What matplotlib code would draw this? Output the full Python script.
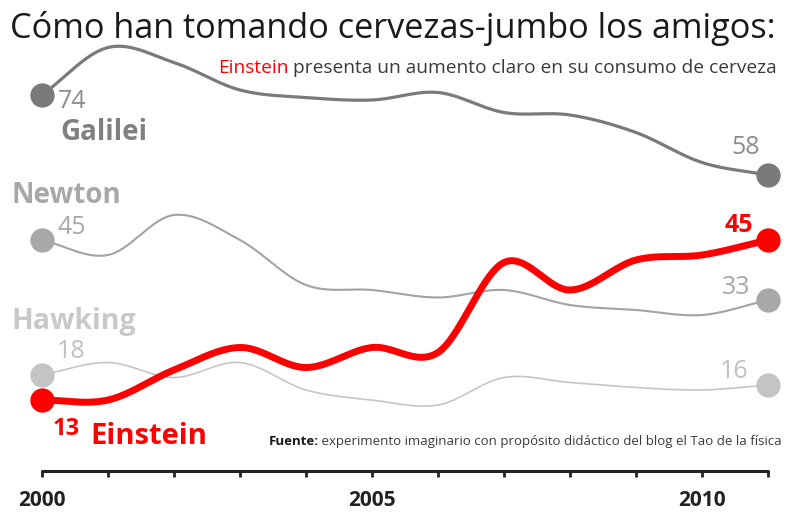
import numpy as np
import matplotlib
matplotlib.use("Agg")
import matplotlib.pyplot as plt

# Consumption of jumbo beers per year
years = list(range(2000, 2012))
galilei = [74, 83.5, 80.5, 75, 73.5, 73, 74.5, 70.5, 70, 66.5, 60.5, 58]
newton = [45, 42, 50, 45, 36, 35, 33.5, 35, 32, 31, 30, 33]
hawking = [18, 20.5, 17.5, 20.5, 15, 13, 12, 17.5, 16.5, 15.5, 15, 16]
einstein = [13, 13, 19, 23.5, 19.5, 23.5, 22.5, 40.5, 35, 41, 42, 45]

tick_labels = ["2000", "", "", "", "", "2005", "", "", "", "", "2010", ""]

FONT = "Open Sans"
W, H = 787, 515


def smooth(x, y, n=40):
    """Catmull-Rom curve through the points (x, y)."""
    x = np.asarray(x, float)
    y = np.asarray(y, float)
    px = np.concatenate([[2 * x[0] - x[1]], x, [2 * x[-1] - x[-2]]])
    py = np.concatenate([[2 * y[0] - y[1]], y, [2 * y[-1] - y[-2]]])
    t = np.linspace(0, 1, n, endpoint=False)
    xs, ys = [], []
    for i in range(1, len(px) - 2):
        for src, dst in ((px, xs), (py, ys)):
            p0, p1, p2, p3 = src[i - 1:i + 3]
            dst.append(0.5 * (2 * p1 + (-p0 + p2) * t
                              + (2 * p0 - 5 * p1 + 4 * p2 - p3) * t ** 2
                              + (-p0 + 3 * p1 - 3 * p2 + p3) * t ** 3))
    xs = np.concatenate(xs + [[x[-1]]])
    ys = np.concatenate(ys + [[y[-1]]])
    return xs, ys


fig = plt.figure(figsize=(W / 100, H / 100), dpi=100)
ax = fig.add_axes([0, 0, 1, 1])
ax.set_xlim(2000 - 42 / 66, 2000 + (W - 42) / 66)
ax.set_ylim(-10, 93)


def fpx(x, y):
    return x / W, 1 - y / H


series = [
    (galilei, "#7a7a7a", 2.3, "#7a7a7a", 2),
    (newton, "#a3a3a3", 1.5, "#a8a8a8", 2),
    (hawking, "#c6c6c6", 1.2, "#c4c4c4", 2),
    (einstein, "#ff0000", 5.0, "#ff0000", 3),
]
for vals, lc, lw, mc, z in series:
    sx, sy = smooth(years, vals)
    ax.plot(sx, sy, color=lc, lw=lw, solid_capstyle="round", zorder=z)
    ax.plot([years[0], years[-1]], [vals[0], vals[-1]], "o", ms=17.5,
            color=mc, mec="none", zorder=z + 0.5)

# value labels at both ends of each line
def val(text, x, y, dx, dy, color, size, ha, bold=False):
    ax.annotate(text, xy=(x, y), xytext=(dx, dy), textcoords="offset pixels",
                ha=ha, va="center", color=color, fontsize=size, family=FONT,
                fontweight="bold" if bold else "normal", zorder=5)

val(f"{galilei[0]:.0f}", years[0], galilei[0], 16, -6, "#8c8c8c", 18, "left")
val(f"{newton[0]:.0f}", years[0], newton[0], 15, 12, "#a8a8a8", 18, "left")
val(f"{hawking[0]:.0f}", years[0], hawking[0], 15, 24, "#c0c0c0", 18, "left")
val(f"{einstein[0]:.0f}", years[0], einstein[0], 11, -29, "#ff0000", 17, "left", True)

val(f"{galilei[-1]:.0f}", years[-1], galilei[-1], -8, 27, "#8c8c8c", 18, "right")
val(f"{einstein[-1]:.0f}", years[-1], einstein[-1], -15, 15, "#ff0000", 18, "right", True)
val(f"{newton[-1]:.0f}", years[-1], newton[-1], -18, 13, "#a8a8a8", 18, "right")
val(f"{hawking[-1]:.0f}", years[-1], hawking[-1], -20, 13, "#c0c0c0", 18, "right")

# series names
def name(text, x, y, color, size):
    fig.text(*fpx(x, y), text, ha="left", va="center", color=color,
             fontsize=size, family=FONT, fontweight="bold")

name("Galilei", 60, 132, "#808080", 20)
name("Newton", 12, 196, "#a8a8a8", 20)
name("Hawking", 12, 321, "#c8c8c8", 20.5)
name("Einstein", 90, 436, "#ff0000", 21)

# x axis
for side in ("left", "right", "top"):
    ax.spines[side].set_visible(False)
ax.spines["bottom"].set_position(("data", -1.2))
ax.spines["bottom"].set_bounds(years[0], years[-1])
ax.spines["bottom"].set_linewidth(2.2)
ax.spines["bottom"].set_color("#222222")
ax.spines["bottom"].set_capstyle("round")
ax.set_yticks([])
ax.set_xticks(years)
ax.set_xticklabels(tick_labels)
ax.tick_params(axis="x", direction="out", length=4.5, width=2, pad=9,
               labelsize=15, color="#222222", labelcolor="#222222")
for lab in ax.get_xticklabels():
    lab.set_fontweight("bold")
    lab.set_family(FONT)

# titles
title = fig.text(*fpx(10, 28), "Cómo han tomando cervezas-jumbo los amigos:",
                 ha="left", va="center", fontsize=24, family=FONT,
                 color="#1a1a1a")
sub_rest = fig.text(*fpx(777, 73), " presenta un aumento claro en su consumo de cerveza",
                    ha="right", va="baseline", fontsize=12, family=FONT,
                    color="#3a3a3a")
sub_red = fig.text(*fpx(222, 73), "Einstein", ha="right", va="baseline",
                   fontsize=12, family=FONT, color="#ff0000")
src_rest = fig.text(*fpx(782, 445),
                    " experimento imaginario con propósito didáctico del blog el Tao de la física",
                    ha="right", va="baseline", fontsize=8, family=FONT,
                    color="#3a3a3a")
src_bold = fig.text(*fpx(270, 445), "Fuente:", ha="right", va="baseline",
                    fontsize=8, family=FONT, color="#1a1a1a",
                    fontweight="bold")

fig.canvas.draw()
r = fig.canvas.get_renderer()


def width(t):
    return t.get_window_extent(r).width


def fit(texts, target):
    total = sum(width(t) for t in texts)
    for t in texts:
        t.set_fontsize(t.get_fontsize() * target / total)


fit([title], 768)
fit([sub_red, sub_rest], 555)
fit([src_bold, src_rest], 512)
fig.canvas.draw()
x_left = sub_rest.get_window_extent(r).x0
sub_red.set_x(x_left / W)
x_left = src_rest.get_window_extent(r).x0
src_bold.set_x(x_left / W)

fig.savefig("out.png", dpi=100)
